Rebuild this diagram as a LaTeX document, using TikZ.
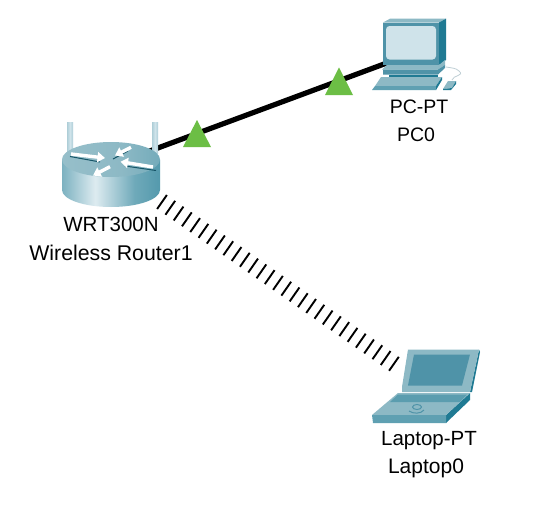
\documentclass[tikz,border=0pt]{standalone}
\usepackage{fontspec}
\setmainfont{Liberation Sans}
\usetikzlibrary{decorations.pathreplacing,arrows.meta}
\definecolor{tfront}{HTML}{4F93A8}
\definecolor{tlight}{HTML}{8DB9C5}
\definecolor{tdark}{HTML}{1F7A93}
\definecolor{tscreen}{HTML}{CFE3EA}
\definecolor{tmid}{HTML}{5FA0B2}
\definecolor{flag}{HTML}{6CBE45}
\pgfdeclarehorizontalshading{routerbody}{100bp}{color(0bp)=(tmid!85!white); color(20bp)=(tmid); color(42bp)=(tscreen!70!white); color(62bp)=(tmid!90!white); color(100bp)=(tdark)}
\pgfdeclarehorizontalshading{routertop}{100bp}{color(0bp)=(tlight!85!white); color(55bp)=(tlight); color(100bp)=(tmid!85!tdark)}
\pgfdeclarehorizontalshading{antenna}{100bp}{color(0bp)=(tlight); color(50bp)=(tscreen); color(100bp)=(tlight)}
\tikzset{
  x=1pt,y=-1pt,
  devlabel/.style={font=\fontsize{20.5}{24}\selectfont,text=black,inner sep=0pt,anchor=center},
  anchorpt/.style={inner sep=0pt,minimum size=0pt},
  cable/.style={line width=5.2pt,black},
  radio/.style={line width=1.9pt,black,decorate,decoration={ticks,segment length=10.1pt,amplitude=8.5pt}},
  linkflag/.style={fill=flag,draw=none},
  routerarrow/.style={white,line width=3.4pt,-{Triangle[length=7.5pt,width=10pt]}},
  routershadow/.style={tdark!70!black,line width=1pt},
}
\begin{document}
\begin{tikzpicture}
\useasboundingbox (0,0) rectangle (539,509);
\fill[white] (0,0) rectangle (539,509);
% anchors
\node[anchorpt] (router) at (111,165.4) {};
\node[anchorpt] (routerair) at (162,202) {};
\node[anchorpt] (pc) at (411,54) {};
\node[anchorpt] (laptop) at (402,369.4) {};
% connectors
\draw[cable] (router.center) -- (pc.center);
\draw[radio] (routerair.center) -- (laptop.center);
% flags
\fill[linkflag] (197,120) -- (211,147) -- (183,147) -- cycle;
\fill[linkflag] (339,67.5) -- (353,95) -- (325,95) -- cycle;
% router
\shade[shading=antenna] (67,122) rectangle (73,153);
\shade[shading=antenna] (152,122) rectangle (158,153);
\shade[shading=routerbody] (62,159.5) -- (62,190) arc[start angle=180,end angle=360,x radius=49pt,y radius=17pt] -- (160,159.5) -- cycle;
\shade[shading=routertop] (111,159.5) ellipse [x radius=49pt,y radius=17.5pt];
\draw[routershadow] (70,156.5) -- (100,162);
\draw[routershadow] (156,170.5) -- (125,166);
\draw[routershadow] (113,159) -- (128,151);
\draw[routerarrow] (71,154) -- (105,158);
\draw[routerarrow] (131,147.3) -- (115,155.5);
\draw[routerarrow] (153,167) -- (120.5,161.7);
\draw[routerarrow] (110,166.7) -- (93,175.5);
\node[devlabel] (routermodel) at (111,224) {WRT300N};
\node[devlabel,font=\fontsize{21.3}{24}\selectfont] (routername) at (111,253) {Wireless Router1};
% pc
\fill[tlight] (383,22.5) -- (390,18.7) -- (446,18.7) -- (439,22.5) -- cycle;
\fill[tdark] (439,22.5) -- (446,18.7) -- (446,60) -- (439,65) -- cycle;
\fill[tfront] (383,22.5) rectangle (439,65);
\fill[tscreen,rounded corners=3.5pt] (386,26) rectangle (436,59.5);
\fill[tlight] (387,65) -- (439,65) -- (445,60) -- (445,65) -- (438,69.5) -- (382,69.5) -- cycle;
\fill[tfront] (383,69.5) -- (438,69.5) -- (445,65) -- (445,68) -- (438,74.5) -- (383,74.5) -- cycle;
\fill[tdark] (389,74.5) -- (438,74.5) -- (438,77) -- (389,77) -- cycle;
\fill[tlight] (381,77) -- (442,77) -- (436,86) -- (375,86) -- cycle;
\fill[tmid] (375,86) -- (436,86) -- (436,90) -- (372,90) -- cycle;
\fill[tdark] (436,86) -- (442,77) -- (442,80) -- (436,90) -- cycle;
\fill[tlight] (443,89) -- (448,81) -- (456,81) -- (452,88) -- cycle;
\fill[tdark] (452,88) -- (456,81) -- (456,84) -- (451,90) -- (443,90) -- (443,89) -- cycle;
\draw[tscreen!80!gray,line width=0.8pt] (452,80) .. controls (453,75) and (465,76) .. (459,71) .. controls (456,68) and (452,68) .. (446,67);
\node[devlabel,font=\fontsize{19.5}{24}\selectfont] (pcmodel) at (419,107) {PC-PT};
\node[devlabel,font=\fontsize{19.5}{24}\selectfont] (pcname) at (416,135) {PC0};
% laptop
\fill[tdark] (479,349.5) -- (480,352) -- (472,392) -- (470,392) -- cycle;
\fill[tlight] (408,349.5) -- (479,349.5) -- (470,392) -- (402,392) -- (402,387) -- cycle;
\fill[tfront] (414,354.5) -- (470,354.5) -- (462,385.5) -- (408,385.5) -- cycle;
\fill[tdark] (446,415) -- (470,393) -- (470,400) -- (446,423) -- cycle;
\fill[tlight] (398,393) -- (470,393) -- (446,415) -- (372,415) -- cycle;
\fill[tmid!75!tfront] (390,402) -- (398,394.5) -- (467,394.5) -- (460,402) -- cycle;
\fill[tmid] (372,415) -- (446,415) -- (446,423) -- (373,423) -- cycle;
\draw[tfront,line width=1pt] (417,407) ellipse [x radius=4.5pt,y radius=2.5pt];
\draw[tfront,line width=1pt] (409,411) .. controls (413,414) and (421,414) .. (424,410);
\node[devlabel] (laptopmodel) at (429,440.5) {Laptop-PT};
\node[devlabel,font=\fontsize{21}{24}\selectfont] (laptopname) at (426,468) {Laptop0};
\end{tikzpicture}
\end{document}
